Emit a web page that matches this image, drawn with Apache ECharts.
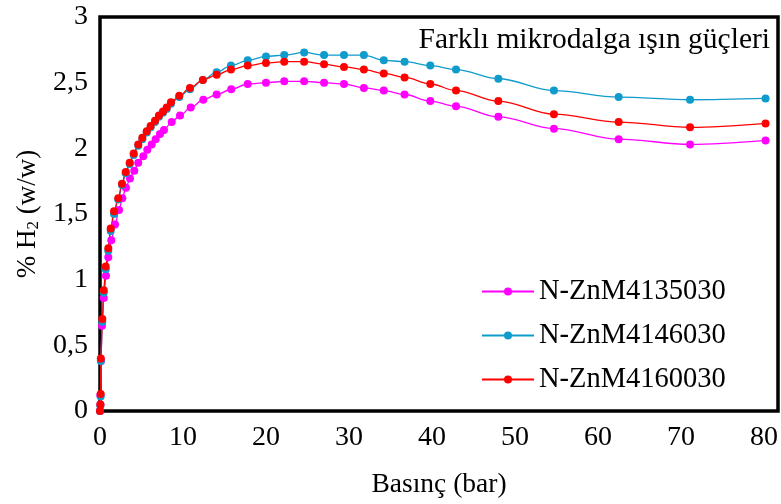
<!DOCTYPE html>
<html>
<head>
<meta charset="utf-8">
<title>Farklı mikrodalga ışın güçleri</title>
<script src="https://cdn.jsdelivr.net/npm/echarts@6/dist/echarts.min.js"></script>
<style>
  html, body { margin: 0; padding: 0; background: #fff; }
  #chart { width: 781px; height: 504px; }
</style>
</head>
<body>
<div id="chart"></div>
<script>
// Pressure (bar) and hydrogen uptake (% w/w) for each microwave power sample
const seriesNames = ['N-ZnM4135030', 'N-ZnM4146030', 'N-ZnM4160030'];

const magentaX = [0, 0.04, 0.04, 0.12, 0.24, 0.45, 0.72, 1.0, 1.36, 1.81, 2.29, 2.69, 3.13, 3.61, 4.13, 4.61, 5.22, 5.7, 6.23, 6.71, 7.23, 7.71, 8.64, 9.64, 10.93, 12.45, 14.06, 15.82, 17.8, 20.0, 22.2, 24.6, 27.0, 29.4, 31.8, 34.2, 36.7, 39.8, 42.9, 48.0, 54.7, 62.5, 71.1, 80.2];
const magentaY = [0, 0.05, 0.12, 0.38, 0.65, 0.86, 1.03, 1.17, 1.30, 1.42, 1.53, 1.62, 1.70, 1.77, 1.83, 1.89, 1.94, 1.99, 2.03, 2.07, 2.11, 2.14, 2.20, 2.25, 2.31, 2.37, 2.41, 2.45, 2.49, 2.50, 2.51, 2.51, 2.50, 2.49, 2.46, 2.44, 2.41, 2.36, 2.32, 2.24, 2.15, 2.07, 2.03, 2.06];

const blueX = [0, 0.05, 0.08, 0.1, 0.28, 0.45, 0.69, 1.0, 1.29, 1.69, 2.2, 2.65, 3.1, 3.58, 4.06, 4.61, 5.1, 5.63, 6.1, 6.63, 7.1, 7.59, 8.04, 8.55, 9.55, 10.84, 12.4, 14.06, 15.78, 17.8, 20.0, 22.2, 24.6, 27.0, 29.4, 31.8, 34.2, 36.7, 39.8, 42.9, 48.0, 54.7, 62.5, 71.1, 80.2];
const blueY = [0, 0.04, 0.11, 0.38, 0.68, 0.90, 1.08, 1.22, 1.37, 1.50, 1.61, 1.72, 1.81, 1.88, 1.95, 2.02, 2.07, 2.12, 2.16, 2.20, 2.24, 2.27, 2.30, 2.34, 2.39, 2.45, 2.52, 2.58, 2.63, 2.67, 2.70, 2.71, 2.73, 2.71, 2.71, 2.71, 2.67, 2.66, 2.63, 2.60, 2.53, 2.44, 2.39, 2.37, 2.38];

const redX = [0, 0.05, 0.08, 0.1, 0.28, 0.45, 0.69, 1.0, 1.29, 1.69, 2.2, 2.65, 3.1, 3.58, 4.06, 4.61, 5.1, 5.63, 6.1, 6.63, 7.1, 7.59, 8.04, 8.55, 9.55, 10.84, 12.4, 14.06, 15.78, 17.8, 20.0, 22.2, 24.6, 27.0, 29.4, 31.8, 34.2, 36.7, 39.8, 42.9, 48.0, 54.7, 62.5, 71.1, 80.2];
const redY = [0, 0.05, 0.13, 0.40, 0.70, 0.92, 1.10, 1.24, 1.39, 1.52, 1.62, 1.73, 1.82, 1.89, 1.96, 2.03, 2.08, 2.13, 2.17, 2.21, 2.25, 2.28, 2.31, 2.35, 2.40, 2.46, 2.52, 2.56, 2.60, 2.63, 2.65, 2.66, 2.66, 2.64, 2.62, 2.60, 2.57, 2.54, 2.49, 2.44, 2.36, 2.26, 2.20, 2.16, 2.19];

const colors = ['#FF00FF', '#0F9BCB', '#FF0000'];
const FONT = 'Liberation Serif';

function pairs(xs, ys) {
  return xs.map((x, i) => [x, ys[i]]);
}

function lineSeries(name, xs, ys, color) {
  return {
    name: name,
    type: 'line',
    data: pairs(xs, ys),
    smooth: 0.35,
    smoothMonotone: 'x',
    symbol: 'circle',
    symbolSize: 8,
    itemStyle: { color: color },
    lineStyle: { color: color, width: 1.3 },
    emphasis: { disabled: true },
    z: 3
  };
}

const chart = echarts.init(document.getElementById('chart'), null, { renderer: 'canvas' });

chart.setOption({
  animation: false,
  backgroundColor: '#ffffff',
  textStyle: { fontFamily: FONT, color: '#000' },
  title: {
    text: 'Farklı mikrodalga ışın güçleri',
    right: 11,
    top: 25,
    padding: 0,
    textStyle: { fontFamily: FONT, fontSize: 29.5, fontWeight: 'normal', color: '#000' }
  },
  legend: {
    orient: 'vertical',
    left: 481,
    top: 277,
    padding: 0,
    itemWidth: 52,
    itemHeight: 10,
    itemGap: 15,
    textStyle: { fontFamily: FONT, fontSize: 28.5, color: '#000' },
    data: seriesNames
  },
  grid: {
    left: 100,
    right: 3,
    top: 17,
    bottom: 91,
    show: true,
    borderColor: '#000',
    borderWidth: 3.5,
    containLabel: false
  },
  xAxis: {
    type: 'value',
    min: 0,
    max: 81.7,
    interval: 10,
    name: 'Basınç (bar)',
    nameLocation: 'middle',
    nameGap: 60,
    nameTextStyle: { fontFamily: FONT, fontSize: 27.5, color: '#000' },
    axisLine: { show: false },
    axisTick: { show: false },
    splitLine: { show: false },
    axisLabel: {
      fontFamily: FONT, fontSize: 28, color: '#000', margin: 13,
      showMaxLabel: false
    }
  },
  yAxis: {
    type: 'value',
    min: 0,
    max: 3,
    interval: 0.5,
    name: '% H{s|2} (w/w)',
    nameLocation: 'middle',
    nameGap: 57,
    nameRotate: 90,
    nameTextStyle: {
      fontFamily: FONT, fontSize: 27, color: '#000',
      rich: { s: { fontFamily: FONT, fontSize: 17, color: '#000', padding: [12, 0, 0, 0] } }
    },
    axisLine: { show: false },
    axisTick: { show: false },
    splitLine: { show: false },
    axisLabel: {
      fontFamily: FONT, fontSize: 28, color: '#000', margin: 12,
      formatter: v => String(v).replace('.', ',')
    }
  },
  series: [
    lineSeries(seriesNames[0], magentaX, magentaY, colors[0]),
    lineSeries(seriesNames[1], blueX, blueY, colors[1]),
    lineSeries(seriesNames[2], redX, redY, colors[2])
  ]
});
</script>
</body>
</html>
